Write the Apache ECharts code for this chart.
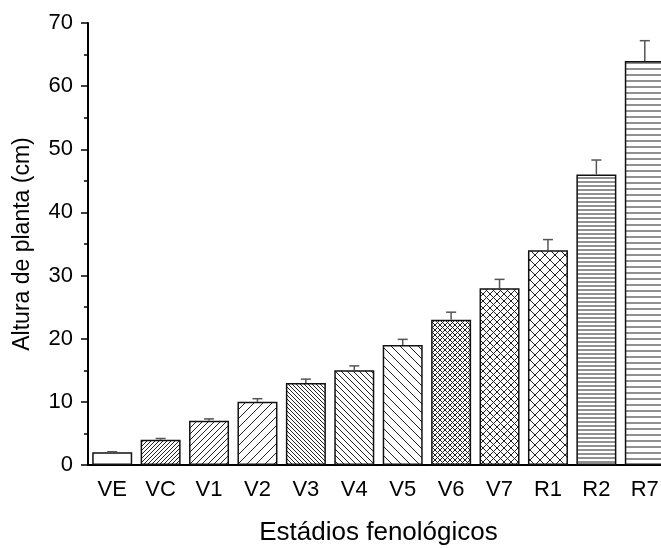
<!DOCTYPE html>
<html>
<head>
<meta charset="utf-8">
<script src="https://cdn.jsdelivr.net/npm/echarts@6/dist/echarts.min.js"></script>
<style>
  html, body { margin: 0; padding: 0; background: #fff; }
  #chart { width: 661px; height: 548px; }
</style>
</head>
<body>
<div id="chart"></div>
<script>
var stages = ['VE', 'VC', 'V1', 'V2', 'V3', 'V4', 'V5', 'V6', 'V7', 'R1', 'R2', 'R7'];
var heights = [2, 4, 7, 10, 13, 15, 19, 23, 28, 34, 46, 64];
var errors = [0.1, 0.2, 0.3, 0.5, 0.6, 0.7, 0.9, 1.2, 1.4, 1.7, 2.3, 3.2];
var yTicks = [0, 10, 20, 30, 40, 50, 60, 70];

// hatch style per bar (type, spacing in px)
var hatches = [
	['none', 0], ['fwd', 4], ['fwd', 6], ['fwd', 9],
	['back', 4], ['back', 6], ['back', 9],
	['cross', 5], ['cross', 7], ['cross', 10],
	['horiz', 4], ['horiz', 6]
];

function makePattern(type, s) {
	var c = document.createElement('canvas');
	var n = s || 8;
	c.width = n; c.height = n;
	var ctx = c.getContext('2d');
	ctx.fillStyle = '#fff';
	ctx.fillRect(0, 0, n, n);
	ctx.strokeStyle = '#222';
	ctx.lineWidth = 1;
	ctx.beginPath();
	if (type == 'fwd' || type == 'cross') {
		ctx.moveTo(0, n); ctx.lineTo(n, 0);
		ctx.moveTo(-1, 1); ctx.lineTo(1, -1);
		ctx.moveTo(n - 1, n + 1); ctx.lineTo(n + 1, n - 1);
	}
	if (type == 'back' || type == 'cross') {
		ctx.moveTo(0, 0); ctx.lineTo(n, n);
		ctx.moveTo(-1, n - 1); ctx.lineTo(1, n + 1);
		ctx.moveTo(n - 1, -1); ctx.lineTo(n + 1, 1);
	}
	if (type == 'horiz') {
		ctx.moveTo(0, n / 2); ctx.lineTo(n, n / 2);
	}
	ctx.stroke();
	return c;
}

var barData = heights.map(function (v, i) {
	var h = hatches[i];
	return {
		value: v,
		itemStyle: {
			color: h[0] == 'none' ? '#fff' : { image: makePattern(h[0], h[1]), repeat: 'repeat' }
		}
	};
});

var chart = echarts.init(document.getElementById('chart'));
var font = 'Liberation Sans, Arial, sans-serif';

var option = {
	animation: false,
	backgroundColor: '#fff',
	grid: { left: 88, top: 23, bottom: 83, width: 581, outerBoundsMode: 'none', containLabel: false },
	xAxis: [
		{
			type: 'category',
			data: stages,
			position: 'bottom',
			name: 'Estádios fenológicos',
			nameLocation: 'middle',
			nameGap: 55,
			nameTextStyle: { fontFamily: font, fontSize: 26, color: '#000' },
			axisLine: { lineStyle: { color: '#000', width: 2 } },
			axisTick: { alignWithLabel: true, length: 7, lineStyle: { color: '#000', width: 1.5 } },
			axisLabel: { fontFamily: font, fontSize: 22, color: '#000', margin: 14 }
		},
		{
			type: 'category',
			data: stages,
			position: 'bottom',
			axisLine: { show: false },
			axisTick: { length: 3, lineStyle: { color: '#000', width: 1.5 } },
			axisLabel: { show: false }
		}
	],
	yAxis: {
		type: 'value',
		min: yTicks[0],
		max: yTicks[yTicks.length - 1],
		interval: 10,
		name: 'Altura de planta (cm)',
		nameLocation: 'middle',
		nameGap: 54,
		nameTextStyle: { fontFamily: font, fontSize: 23, color: '#000' },
		axisLine: { show: true, lineStyle: { color: '#000', width: 2 } },
		axisTick: { show: true, length: 7, lineStyle: { color: '#000', width: 1.5 } },
		minorTick: { show: true, splitNumber: 2, length: 4, lineStyle: { color: '#000', width: 1.5 } },
		splitLine: { show: false },
		axisLabel: { fontFamily: font, fontSize: 22, color: '#000', margin: 15 }
	},
	series: [
		{
			type: 'bar',
			data: barData,
			barWidth: 40,
			itemStyle: { borderColor: '#111', borderWidth: 1.5 },
			z: 2
		},
		{
			type: 'custom',
			data: heights.map(function (v, i) { return [i, v, errors[i]]; }),
			z: 3,
			renderItem: function (params, api) {
				var i = api.value(0);
				var base = api.coord([i, api.value(1)]);
				var top = api.coord([i, api.value(1) + api.value(2)]);
				var st = { stroke: '#555', lineWidth: 1.5 };
				return {
					type: 'group',
					children: [
						{ type: 'line', shape: { x1: base[0], y1: base[1], x2: top[0], y2: top[1] }, style: st },
						{ type: 'line', shape: { x1: top[0] - 5, y1: top[1], x2: top[0] + 5, y2: top[1] }, style: st }
					]
				};
			}
		}
	]
};
chart.setOption(option);
</script>
</body>
</html>
